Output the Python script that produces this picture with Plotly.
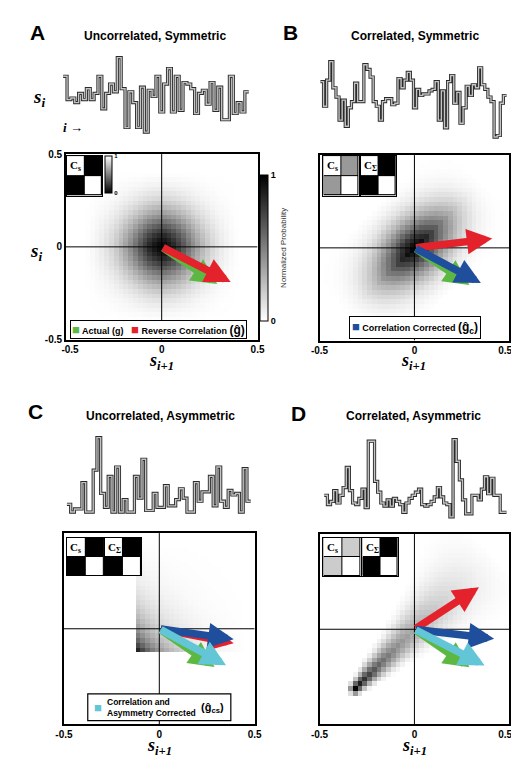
import numpy as np
import plotly.graph_objects as go

W, H = 519, 758
FONT = "Liberation Sans, Arial, sans-serif"
SERIF = "Liberation Serif, Times New Roman, serif"

# ---------------- data ----------------
panel_letters = ["A", "B", "C", "D"]
panel_titles = ["Uncorrelated, Symmetric", "Correlated, Symmetric",
                "Uncorrelated, Asymmetric", "Correlated, Asymmetric"]
tick_vals = [-0.5, 0, 0.5]
tick_text = ["-0.5", "0", "0.5"]

# stimulus time series (arbitrary units)
series_a = [1.95, 1.20, 1.25, 1.10, 1.40, 1.20, 1.55, 1.20, 1.40, 1.95, 0.90, 1.40,
            1.70, 1.45, 2.55, 1.55, 0.30, 1.45, 1.10, 0.30, 1.60, 0.15, 1.50, 1.30,
            1.95, 0.80, 1.70, 2.20, 0.80, 1.95, 0.85, 1.75, 1.70, 1.55, 0.75, 1.40,
            1.50, 1.05, 1.75, 0.85, 1.60, 0.55, 0.55, 1.95, 0.75, 1.10, 0.80, 1.45]
series_b = [1.85, 1.05, 1.90, 2.50, 1.65, 1.35, 0.60, 1.25, 0.40, 1.00, 1.20, 1.80,
            1.20, 1.20, 2.40, 2.25, 2.00, 1.20, 1.05, 0.60, 1.20, 1.30, 1.30, 1.10,
            1.15, 1.95, 1.65, 1.90, 2.15, 1.90, 1.00, 1.60, 1.40, 1.45, 1.45, 1.55,
            1.60, 1.85, 0.60, 1.55, 0.35, 1.85, 2.05, 1.15, 1.50, 0.50, 1.00, 1.70,
            1.40, 1.75, 1.65, 2.30, 1.75, 1.60, 1.35, 1.20, 0.05, 0.10, 1.15, 1.40]
series_c = [0.30, 0.05, 0.15, 0.15, 1.00, 0.05, 0.05, 1.40, 2.45, 0.65, 0.20, 1.20,
            0.05, 1.50, 0.05, 0.45, 0.05, 0.05, 1.20, 0.50, 1.75, 0.10, 0.10, 0.65,
            0.20, 0.20, 0.90, 0.25, 0.25, 0.45, 0.80, 0.50, 0.05, 0.05, 1.00, 0.40,
            0.70, 0.70, 1.20, 0.25, 1.50, 0.40, 0.20, 0.75, 0.60, 0.65, 0.05, 1.45, 0.40]
series_d = [0.80, 0.50, 0.60, 0.95, 0.55, 0.80, 1.05, 1.70, 0.95, 0.55, 0.50, 0.70,
            1.00, 0.40, 2.55, 2.55, 1.25, 0.90, 0.55, 0.45, 0.65, 0.45, 0.70, 0.60,
            0.50, 0.25, 0.55, 0.70, 0.80, 0.90, 1.00, 0.50, 0.45, 0.50, 0.60, 0.75,
            1.05, 0.75, 0.55, 0.50, 0.10, 2.60, 1.90, 1.30, 0.65, 0.20, 0.20, 0.80,
            0.80, 0.65, 1.00, 1.40, 0.85, 1.35, 0.80, 0.80, 0.25, 0.25]

# density profiles
a_r = [0.0, 0.05, 0.10, 0.15, 0.20, 0.25, 0.30, 0.35, 0.40]
a_p = [1.0, 0.90, 0.72, 0.50, 0.32, 0.18, 0.09, 0.035, 0.0]
b_u = [0.0, 0.05, 0.10, 0.15, 0.20, 0.25, 0.30, 0.35, 0.40, 0.45, 0.50]
b_pu = [1.0, 0.95, 0.82, 0.66, 0.50, 0.35, 0.23, 0.13, 0.06, 0.02, 0.0]
b_v = [0.0, 0.05, 0.10, 0.15, 0.20, 0.25, 0.30]
b_pv = [1.0, 0.80, 0.52, 0.28, 0.12, 0.04, 0.0]
c_s = [-0.125, -0.075, -0.025, 0.025, 0.075, 0.125, 0.175, 0.225, 0.275, 0.35, 0.45]
c_p = [1.0, 0.70, 0.50, 0.36, 0.26, 0.19, 0.13, 0.09, 0.06, 0.03, 0.0]
d_s = [-0.34, -0.32, -0.28, -0.20, -0.10, 0.0, 0.10, 0.20, 0.30, 0.40]
d_val = [0.0, 1.0, 0.85, 0.62, 0.45, 0.33, 0.22, 0.13, 0.06, 0.0]
d_w = [0.012, 0.015, 0.020, 0.030, 0.040, 0.055, 0.070, 0.090, 0.110, 0.130]
w_pts = [0.0, 0.5, 1.0, 1.5, 2.0]
w_val = [1.0, 0.8, 0.45, 0.15, 0.0]

# filter vectors (arrow tips, arrows start at origin)
vec_actual = [0.29, -0.20]
vec_rc_a = [0.36, -0.19]
vec_rc_b = [0.41, 0.05]
vec_cc_b = [0.35, -0.19]
vec_rc_c = [0.39, -0.075]
vec_cc_c = [0.39, -0.055]
vec_cac_c = [0.35, -0.19]
vec_rc_d = [0.34, 0.22]
vec_cc_d = [0.42, -0.05]
vec_cac_d = [0.37, -0.19]

# covariance icons (2x2)
cs_a = [[1, 0], [0, 1]]
cs_b = [[1, 0.6], [0.6, 1]]
csig_b = [[1, 0], [0, 1]]
cs_c = [[1, 0], [0, 1]]
csig_c = [[1, 0], [0, 1]]
cs_d = [[1, 0.8], [0.8, 1]]
csig_d = [[1, 0], [0, 1]]

GREEN, RED, BLUE, CYAN = "#5db843", "#e3222b", "#1f4e9c", "#62c6d6"

# ---------------- helpers ----------------
fig = go.Figure()
layout = dict(width=W, height=H, margin=dict(l=0, r=0, t=0, b=0),
              paper_bgcolor="white", plot_bgcolor="white", showlegend=False)
annotations, shapes = [], []
count = [0]


def dom_x(a, b):
    return [a / W, b / W]


def dom_y(top, bottom):
    return [1 - bottom / H, 1 - top / H]


def add_axes(xpx, ypx, xcfg, ycfg):
    count[0] += 1
    s = "" if count[0] == 1 else str(count[0])
    layout["xaxis" + s] = dict(domain=dom_x(*xpx), anchor="y" + s, **xcfg)
    layout["yaxis" + s] = dict(domain=dom_y(*ypx), anchor="x" + s, **ycfg)
    return "x" + s, "y" + s


def text(xp, yp, s, size, family=FONT, xanchor="center", yanchor="middle",
         color="black", **kw):
    annotations.append(dict(xref="paper", yref="paper", x=xp / W, y=1 - yp / H,
                            text=s, showarrow=False, xanchor=xanchor, yanchor=yanchor,
                            font=dict(family=family, size=size, color=color), **kw))


def main_axis(show, ttext=None):
    return dict(range=[-0.5, 0.5], showgrid=False, zeroline=False, showline=True,
                mirror=True, linecolor="black", linewidth=1.5, ticks="",
                tickvals=tick_vals, ticktext=ttext or tick_text, showticklabels=show,
                tickfont=dict(family=FONT, size=10, color="black", weight="bold"),
                fixedrange=True)


bins = np.linspace(-0.4875, 0.4875, 40)
X, Y = np.meshgrid(bins, bins)
GRAY = [[0, "white"], [1, "black"]]


def add_main(xpx, ypx, z, show_y, xtext=None, colorbar=None):
    xr, yr = add_axes(xpx, ypx, main_axis(True, xtext), main_axis(show_y))
    fig.add_trace(go.Heatmap(x=bins, y=bins, z=z, xaxis=xr, yaxis=yr, colorscale=GRAY,
                             zmin=0, zmax=1, zsmooth=False, hoverinfo="skip",
                             showscale=colorbar is not None, colorbar=colorbar or {}))
    for sh in (dict(x0=0, x1=0, y0=-0.5, y1=0.5), dict(x0=-0.5, x1=0.5, y0=0, y1=0)):
        shapes.append(dict(type="line", xref=xr, yref=yr, line=dict(color="black", width=1), **sh))
    return xr, yr


def add_series(vals, xpx, ypx):
    pad = 0.03 * (max(vals) - min(vals))
    xr, yr = add_axes(xpx, ypx,
                      dict(visible=False, range=[-0.3, len(vals) + 0.3], fixedrange=True),
                      dict(visible=False, range=[min(vals) - pad, max(vals) + pad], fixedrange=True))
    xs = list(range(len(vals) + 1))
    ys = list(vals) + [vals[-1]]
    fig.add_trace(go.Scatter(x=xs, y=ys, xaxis=xr, yaxis=yr, mode="lines", hoverinfo="skip",
                             line=dict(color="#2a2a2a", width=3.2, shape="hv")))
    fig.add_trace(go.Scatter(x=xs, y=ys, xaxis=xr, yaxis=yr, mode="lines", hoverinfo="skip",
                             line=dict(color="#c4c4c4", width=1.4, shape="hv")))


def add_matrix(z, label, xpx, ypx, colorbar=None):
    cfg = dict(showticklabels=False, ticks="", showgrid=False, zeroline=False,
               showline=True, mirror=True, linecolor="black", linewidth=1, fixedrange=True)
    xr, yr = add_axes(xpx, ypx, dict(range=[-0.5, 1.5], **cfg), dict(range=[1.5, -0.5], **cfg))
    shapes.append(dict(type="rect", xref=xr, yref=yr, x0=-0.5, x1=1.5, y0=-0.5, y1=1.5,
                       fillcolor="black", line=dict(width=0), layer="below"))
    fig.add_trace(go.Heatmap(z=z, x=[0, 1], y=[0, 1], xaxis=xr, yaxis=yr,
                             colorscale=[[0, "black"], [1, "white"]], zmin=0, zmax=1,
                             xgap=1, ygap=1, hoverinfo="skip",
                             showscale=colorbar is not None, colorbar=colorbar or {}))
    annotations.append(dict(xref=xr, yref=yr, x=-0.42, y=-0.45, xanchor="left", yanchor="top",
                            showarrow=False, text=label,
                            font=dict(family=SERIF, size=11, color="black")))


def arrow(xr, yr, vec, color):
    annotations.append(dict(xref=xr, yref=yr, axref=xr, ayref=yr, x=vec[0], y=vec[1],
                            ax=0, ay=0, text="", showarrow=True, arrowhead=2,
                            arrowsize=0.68, arrowwidth=7.5, arrowcolor=color))


CS = "<b>C<sub>s</sub></b>"
CSIG = "<b>C<sub>Σ</sub></b>"

# ---------------- densities ----------------
pa = np.interp(np.abs(bins), a_r, a_p)
z_a = np.outer(pa, pa)
U = (X + Y) / np.sqrt(2)
V = (Y - X) / np.sqrt(2)
z_b = np.interp(np.abs(U), b_u, b_pu) * np.interp(np.abs(V), b_v, b_pv)
qc = np.interp(bins, c_s, c_p, left=0, right=0)
z_c = np.outer(qc, qc)
S = (X + Y) / 2
P = np.abs(Y - X) / 2
z_d = np.interp(S, d_s, d_val, left=0, right=0) * \
    np.interp(P / np.interp(S, d_s, d_w), w_pts, w_val, right=0)

# ---------------- panel A ----------------
cb_main = dict(x=251 / W, xanchor="left", y=1 - 238 / H, yanchor="middle", len=148 / H,
               lenmode="fraction", thickness=8, outlinewidth=1, outlinecolor="black",
               tickvals=[0, 1], ticktext=["0", "1"], ticks="", xpad=0, ypad=0,
               tickfont=dict(family=FONT, size=9, color="black", weight="bold"),
               title=dict(text="Normalized Probability", side="right",
                          font=dict(family=FONT, size=8, color="#333")))
xa, ya = add_main((47, 248), (143, 331), z_a, True,
                  xtext=["\u00a0\u00a0\u00a0-0.5", "0", "0.5"], colorbar=cb_main)
arrow(xa, ya, vec_actual, GREEN)
arrow(xa, ya, vec_rc_a, RED)
add_series(series_a, (43, 240), (43, 123))
cb_small = dict(x=88 / W, xanchor="left", y=1 - 164 / H, yanchor="middle", len=38 / H,
                lenmode="fraction", thickness=7, outlinewidth=1, outlinecolor="black",
                tickvals=[0, 1], ticktext=["0", "1"], ticks="", xpad=0, ypad=0,
                tickfont=dict(family=FONT, size=6, color="black", weight="bold"))
add_matrix(cs_a, CS, (48, 85), (145, 185), colorbar=cb_small)

# ---------------- panel B ----------------
right_text = ["-0.5", "0", "0.5\u00a0\u00a0\u00a0"]
xb, yb = add_main((313, 512), (144, 332), z_b, False, xtext=right_text)
arrow(xb, yb, vec_rc_b, RED)
arrow(xb, yb, vec_actual, GREEN)
arrow(xb, yb, vec_cc_b, BLUE)
add_series(series_b, (313, 510), (47, 128))
add_matrix(cs_b, CS, (317, 354), (145, 185))
add_matrix(csig_b, CSIG, (356, 393), (145, 185))

# ---------------- panel C ----------------
xc, yc = add_main((45, 245), (527, 721), z_c, False)
arrow(xc, yc, vec_rc_c, RED)
arrow(xc, yc, vec_cc_c, BLUE)
arrow(xc, yc, vec_actual, GREEN)
arrow(xc, yc, vec_cac_c, CYAN)
add_series(series_c, (47, 242), (428, 508))
add_matrix(cs_c, CS, (48, 87), (532, 570))
add_matrix(csig_c, CSIG, (88, 126), (532, 570))

# ---------------- panel D ----------------
xd, yd = add_main((313, 512), (528, 721), z_d, False, xtext=right_text)
arrow(xd, yd, vec_rc_d, RED)
arrow(xd, yd, vec_cc_d, BLUE)
arrow(xd, yd, vec_actual, GREEN)
arrow(xd, yd, vec_cac_d, CYAN)
add_series(series_d, (317, 510), (430, 513))
add_matrix(cs_d, CS, (317, 356), (532, 571))
add_matrix(csig_d, CSIG, (358, 395), (532, 571))

# ---------------- text ----------------
for letter, (lx, ly) in zip(panel_letters, [(17, 20), (283, 20), (15, 404), (291, 406)]):
    text(lx, ly, "<b>%s</b>" % letter, 21)
for title, (tx, ty) in zip(panel_titles, [(140, 23), (413, 23), (146, 408), (412, 408)]):
    text(tx, ty, "<b>%s</b>" % title, 12)

SI = "<b><i>s</i></b><sub><b><i>i</i></b></sub>"
SI1 = "<b><i>s</i></b><sub><b><i>i+1</i></b></sub>"
text(19, 86, SI, 19, family=SERIF)
text(16, 242, SI, 19, family=SERIF)
text(54, 116, "<b><i>i</i> →</b>", 13, family=SERIF)
for (sx, sy) in [(147, 353), (412, 353), (145, 743), (413, 743)]:
    text(sx, sy, SI1, 18, family=SERIF)

sq = "<span style='color:%s;font-size:13px'>■</span>"
text(144.5, 320.5,
     "<b>" + sq % GREEN + " Actual (g)\u00a0\u00a0 " + sq % RED +
     " Reverse Correlation <span style='font-size:12px'>(ĝ)</span></b>", 9,
     bordercolor="black", borderwidth=1, borderpad=1, bgcolor="white")
text(413, 319,
     "<b>" + sq % BLUE + " Correlation Corrected <span style='font-size:12px'>(ĝ<sub>c</sub>)</span></b>", 9,
     bordercolor="black", borderwidth=1, borderpad=2, bgcolor="white")
shapes.append(dict(type="rect", xref="paper", yref="paper", x0=70 / W, x1=220 / W,
                   y0=1 - 717 / H, y1=1 - 690 / H, fillcolor="white",
                   line=dict(color="black", width=1.2), layer="above"))
text(81, 704, "<span style='color:%s'>■</span>" % CYAN, 13)
text(88, 704, "<b>Correlation and<br>Asymmetry Corrected</b>", 8.5, xanchor="left", align="left")
text(201, 704, "<b>(ĝ<sub>cs</sub>)</b>", 11)

layout["annotations"] = annotations
layout["shapes"] = shapes
fig.update_layout(**layout)
fig.write_html("out.html")
